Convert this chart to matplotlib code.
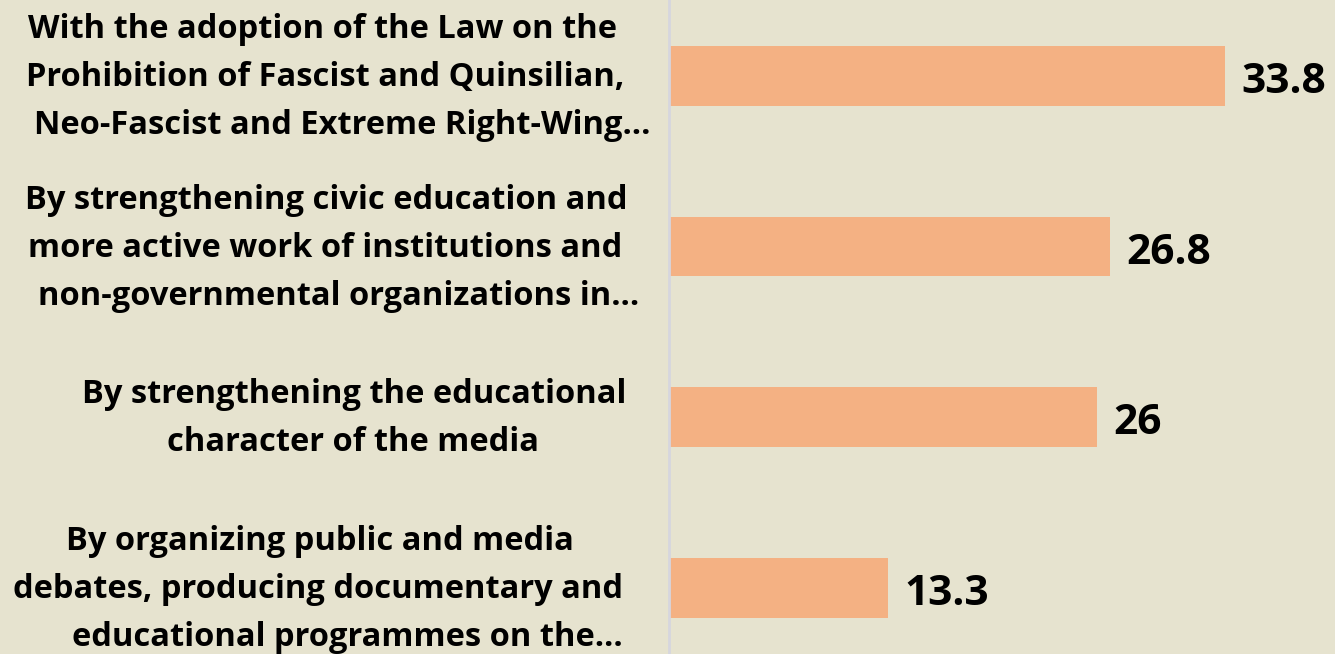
import matplotlib
matplotlib.use("Agg")
import matplotlib.pyplot as plt
from matplotlib import transforms

# data, top to bottom
labels = [
    ["With the adoption of the Law on the",
     "Prohibition of Fascist and Quinsilian,",
     "Neo-Fascist and Extreme Right-Wing\u2026"],
    ["By strengthening civic education and",
     "more active work of institutions and",
     "non-governmental organizations in\u2026"],
    ["By strengthening the educational",
     "character of the media"],
    ["By organizing public and media",
     "debates, producing documentary and",
     "educational programmes on the\u2026"],
]
values = [33.8, 26.8, 26, 13.3]
value_text = ["33.8", "26.8", "26", "13.3"]

# horizontal centre (figure px) of each label line
line_x = [[323, 325, 342], [326, 325, 339], [354, 353], [320, 318, 347]]

W, H = 1335, 654
bg = "#e6e3cf"
bar_color = "#f4b183"

plt.rcParams["font.family"] = ["Open Sans", "DejaVu Sans"]

fig = plt.figure(figsize=(W / 100, H / 100), dpi=100, facecolor=bg)
ax = fig.add_axes([669 / W, 0, 1 - 669 / W, 1])
ax.set_facecolor(bg)

pos = list(range(len(values)))
ax.barh(pos, values, height=0.35, color=bar_color, zorder=2)

ax.set_xlim(0, (W - 669) / 16.45)
ax.set_ylim(3.387, -0.445)

for s in ["top", "right", "bottom"]:
    ax.spines[s].set_visible(False)
ax.spines["left"].set_color("#d6d6de")
ax.spines["left"].set_linewidth(2)
ax.set_xticks([])
ax.set_yticks([])

# value labels
for p, v, t in zip(pos, values, value_text):
    ax.annotate(t, (v, p), xytext=(12, -12.2), textcoords="offset points",
                ha="left", va="baseline", fontsize=30.5, fontweight="bold",
                color="black")

# category labels, one text per line
tr = transforms.blended_transform_factory(fig.transFigure, ax.transData)
px = 1 / 170.67
step = 48 * px
for p, lines, xs in zip(pos, labels, line_x):
    n = len(lines)
    for k, (line, x) in enumerate(zip(lines, xs)):
        y = p + (k - (n - 1) / 2) * step + 10 * px
        fig.text(x / W, y, line, transform=tr, ha="center", va="baseline",
                 fontsize=23.5, fontweight="bold", color="black")

fig.savefig("out.png", dpi=100, facecolor=bg)
